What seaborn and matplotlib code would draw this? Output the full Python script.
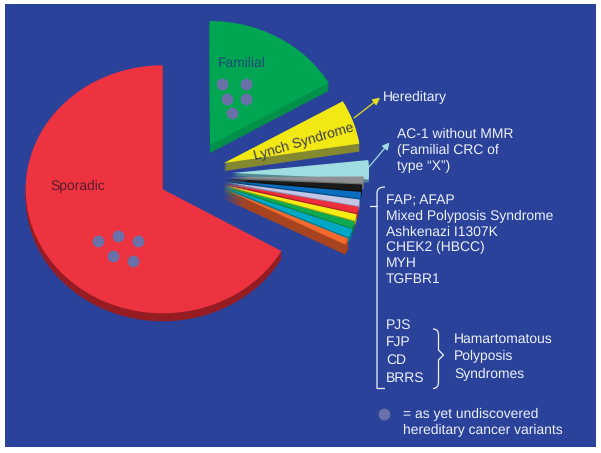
import matplotlib
matplotlib.use("Agg")
import matplotlib.pyplot as plt
from matplotlib.path import Path
from matplotlib.patches import PathPatch
import seaborn as sns

sns.set_theme(style="white")
plt.rcParams['font.family'] = ['Liberation Sans', 'DejaVu Sans']
plt.rcParams['text.hinting'] = 'none'

W, H = 601, 453
FLAT = 0.905          # vertical flattening of the tilted pie
BG = '#2A429A'
DOT = '#6A70A8'

# ---- data (percent of the whole) ----
slice_names = ['Sporadic', 'Familial', 'Lynch Syndrome', 'AC-1 without MMR', 'FAP; AFAP',
               'Mixed Polyposis Syndrome', 'Ashkenazi I1307K', 'CHEK2 (HBCC)', 'MYH', 'TGFBR1',
               'PJS', 'FJP', 'CD']
slice_values = [66.7, 16.7, 5.8, 2.5, 0.9, 0.8, 0.8, 0.85, 0.85, 0.85, 0.9, 1.15, 0.85]

# ---- layout / style ----
start_angles = [90, 30, 9, -3, -3, -5.4, -8.2, -11.2, -13.9, -16.7, -19.9, -24, -26.9]
apex_x = [162.7, 210, 224, 232, 226.5, 225, 224.5, 224, 224, 223.5, 223.5, 223.5, 223]
apex_y = [189.3, 145, 163, 173, 177, 179, 180.5, 182, 183.5, 185, 186, 187, 188.5]
depths = [8, 8, 8, 3, 6, 6, 6, 6, 6, 6, 6, 6, 10]
top_colors = ['#EE3340', '#00A651', '#F2E814', '#9FDDE0', '#8E9092', '#1A1A1A', '#0A6FC0',
              '#C5C6E6', '#ED2E3C', '#F6EB14', '#0FAA4F', '#00A8C6', '#F26A2E']
side_colors = ['#951C22', '#00904A', '#84892F', '#4E8A90', '#6F7072', '#111111', '#06508C',
               '#8E8FB0', '#A81F2A', '#A8A010', '#0A7A3A', '#007A90', '#A8431F']
RADIUS = 137

dots_x = [98.3, 117.7, 137.7, 113.3, 132.7, 221.7, 246, 226.7, 246, 231.7, 383.7]
dots_y = [241, 236, 241, 256, 260.7, 84.3, 84.3, 99, 99, 113.3, 413.7]

list_lines = ['FAP; AFAP', 'Mixed Polyposis Syndrome', 'Ashkenazi I1307K', 'CHEK2 (HBCC)', 'MYH', 'TGFBR1']
list_y = [199, 215.5, 231, 246.5, 262, 278]
ham_lines = ['PJS', 'FJP', 'CD', 'BRRS']
ham_y = [324, 341, 359, 377]
syn_lines = ['Hamartomatous', 'Polyposis', 'Syndromes']
syn_y = [337.7, 355, 373]
ac_lines = ['AC-1 without MMR', '(Familial CRC of', 'type “X”)']
ac_y = [133, 149, 165]
note_lines = ['= as yet undiscovered', 'hereditary cancer variants']
note_y = [413, 429]


def Y(py):
    return (H - py) / FLAT


fig = plt.figure(figsize=(W / 100, H / 100), dpi=100, facecolor='white')
L, R, T, B = 5, 596, 4, 447
ax = fig.add_axes([L / W, (H - B) / H, (R - L) / W, (B - T) / H])

for i, v in enumerate(slice_values):
    cx, cy = apex_x[i], apex_y[i]
    for d in range(depths[i], 0, -1):
        ax.pie([v, 100 - v], colors=[side_colors[i], 'none'], startangle=start_angles[i],
               center=(cx, Y(cy + d)), radius=RADIUS, frame=True, normalize=True,
               wedgeprops={'linewidth': 0})
    ax.pie([v, 100 - v], colors=[top_colors[i], 'none'], startangle=start_angles[i],
           center=(cx, Y(cy)), radius=RADIUS, frame=True, normalize=True,
           wedgeprops={'linewidth': 0})

sns.scatterplot(x=dots_x, y=[Y(p) for p in dots_y], color=DOT, s=72, linewidth=0, ax=ax, zorder=3, legend=False)

ax.set_aspect('auto')
ax.set_xlim(L, R)
ax.set_ylim(Y(B), Y(T))
ax.set_facecolor(BG)
ax.set_xticks([]); ax.set_yticks([])
ax.set_xlabel(''); ax.set_ylabel('')
for s in ax.spines.values():
    s.set_visible(False)

FS = 10
WHITE = '#EEF0F8'


def label(x, py, s, color=WHITE, **kw):
    ax.text(x, Y(py + 5), s, color=color, fontsize=FS, va='baseline', ha=kw.pop('ha', 'left'), zorder=4, **kw)


label(383, 96, 'Hereditary')
for s, y in zip(ac_lines, ac_y):
    label(397.3, y, s)
for s, y in zip(list_lines, list_y):
    label(386, y, s)
for s, y in zip(ham_lines, ham_y):
    label(386, y, s)
for s, y in zip(syn_lines, syn_y):
    label(454.3, y, s)
for s, y in zip(note_lines, note_y):
    label(402.7, y, s)
label(50, 184.7, slice_names[0], color='#5A1A2E')
label(218, 62, slice_names[1], color='#1F4A7A')
ax.text(304, Y(142), slice_names[2], color='#3A3A50', fontsize=FS, rotation=16.4,
        rotation_mode='anchor', ha='center', va='center', zorder=4)

ax.annotate('', xy=(380, Y(97.8)), xytext=(354, Y(118)),
            arrowprops=dict(arrowstyle='-|>,head_width=0.18,head_length=0.35', color='#E8E020', lw=0.9,
                            shrinkA=0, shrinkB=0), zorder=4)
ax.annotate('', xy=(389.5, Y(142.5)), xytext=(368.3, Y(167.7)),
            arrowprops=dict(arrowstyle='-|>,head_width=0.18,head_length=0.35', color='#A0DDE0', lw=0.9,
                            shrinkA=0, shrinkB=0), zorder=4)


def brace(xs, ys, codes):
    p = Path([(x, Y(y)) for x, y in zip(xs, ys)], codes)
    ax.add_patch(PathPatch(p, fc='none', ec=WHITE, lw=0.9, zorder=4))


M, L3, C3 = Path.MOVETO, Path.LINETO, Path.CURVE3
brace([385, 377, 377, 377, 377, 370, 377, 377, 377, 377, 377, 385],
      [187, 187, 193, 201, 206.5, 206.5, 206.5, 212, 382, 388.5, 388.5, 388.5],
      [M, C3, C3, L3, L3, M, L3, L3, L3, C3, C3, L3])
brace([433, 438.5, 438.5, 438.5, 443.5, 438.5, 438.5, 438.5, 433],
      [329, 329, 335, 350, 355, 360, 382, 388.5, 388.5],
      [M, C3, C3, L3, L3, L3, L3, C3, C3])

fig.savefig('out.png', dpi=100, facecolor='white')
